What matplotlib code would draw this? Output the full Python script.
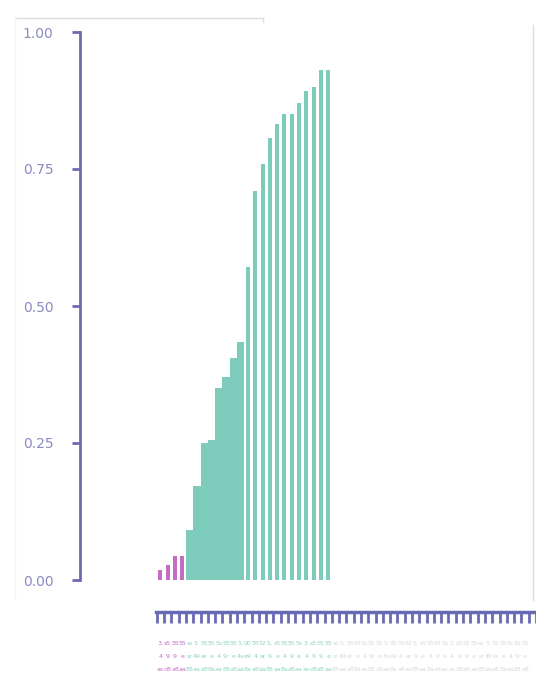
import matplotlib.pyplot as plt
from matplotlib.lines import Line2D

# bar heights (cumulative share)
purple_vals = [0.018, 0.027, 0.044, 0.044]
teal_wide_vals = [0.091, 0.172, 0.250, 0.255, 0.350, 0.370, 0.405, 0.434]
teal_thin_vals = [0.571, 0.709, 0.759, 0.806, 0.832, 0.850, 0.850, 0.871, 0.892, 0.900, 0.931, 0.931]
n_categories = 52
y_ticks = [0.0, 0.25, 0.50, 0.75, 1.00]
row1 = ["3.", "s5", "55", "55", "ss", "5.", "55", "55", "5s", "55", "55", "5,", "00", "55", "52", "5,", "s5", "55", "55", "5s"]
row2 = ["4", "9", "9", "e", "sr", "49", "er", "e", "4", "9r", "e", "4v", "e9", "4", "er", "9", "e", "4", "9", "e"]
row3 = ["as", "d8", "a8", "aa", "88", "aa", "a8", "8a", "aa", "88", "a8", "aa", "8a", "a8", "aa", "88", "aa", "8a", "a8", "aa"]

AXIS = "#6a6ab4"
LABEL = "#8a8ac4"
TEAL = "#7dcbba"
PURPLE = "#c46cc4"

fig = plt.figure(figsize=(5.36, 6.79), dpi=100)
W, H = 536, 679
ax = fig.add_axes([80 / W, 1 - 580 / H, (W - 80) / W, (580 - 32) / H])

n_p = len(purple_vals)
n_w = len(teal_wide_vals)
xp = list(range(n_p))
xw = list(range(n_p, n_p + n_w))
xt = list(range(n_p + n_w, n_p + n_w + len(teal_thin_vals)))
ax.bar(xp, purple_vals, width=0.55, color=PURPLE)
ax.bar(xw, teal_wide_vals, width=1.0, color=TEAL)
ax.bar(xt, teal_thin_vals, width=0.55, color=TEAL)

pitch = 7.3
ax.set_xlim((80 - 160.5) / pitch, (536 - 160.5) / pitch)
ax.set_ylim(0, 1)

for s in ["top", "right"]:
    ax.spines[s].set_visible(False)
ax.spines["left"].set_color(AXIS)
ax.spines["left"].set_linewidth(2)
ax.spines["left"].set_bounds(0, 1)
ax.spines["bottom"].set_color(AXIS)
ax.spines["bottom"].set_linewidth(2.5)
ax.spines["bottom"].set_position(("outward", 23))
ax.spines["bottom"].set_bounds(-0.6, (536 - 160.5) / pitch)

ax.set_yticks(y_ticks)
ax.set_yticklabels([f"{v:.2f}" for v in y_ticks])
ax.tick_params(axis="y", colors=AXIS, labelcolor=LABEL, length=6, width=2, pad=13, labelsize=10)

ax.set_xticks([i - 0.5 for i in range(n_categories + 1)])
ax.set_xticklabels([])
ax.tick_params(axis="x", colors=AXIS, length=8, width=2)

# tiny category labels under the axis, three rows
trans = ax.get_xaxis_transform()
n_bars = n_p + n_w + len(teal_thin_vals)
for i in range(n_categories - 1):
    if i < n_p:
        c = PURPLE
    elif i < n_bars:
        c = "#8fd3c4"
    else:
        c = "#d3dbd7"
    k = i % len(row1)
    for r, row in enumerate([row1, row2, row3]):
        ax.text(i, -0.116 - r * 0.024, row[k], transform=trans, fontsize=4.5,
                color=c, ha="center", va="center", clip_on=False)

# faint frame fragments
fig.add_artist(Line2D([15 / W, 263 / W], [1 - 18 / H, 1 - 18 / H], color="#dddddd", lw=1))
fig.add_artist(Line2D([263 / W, 263 / W], [1 - 18 / H, 1 - 22 / H], color="#dddddd", lw=1))
fig.add_artist(Line2D([533 / W, 533 / W], [1 - 25 / H, 1 - 600 / H], color="#dddddd", lw=1))
fig.add_artist(Line2D([15 / W, 15 / W], [1 - 18 / H, 1 - 600 / H], color="#f4f4f4", lw=1))

fig.savefig("out.png", dpi=100)
